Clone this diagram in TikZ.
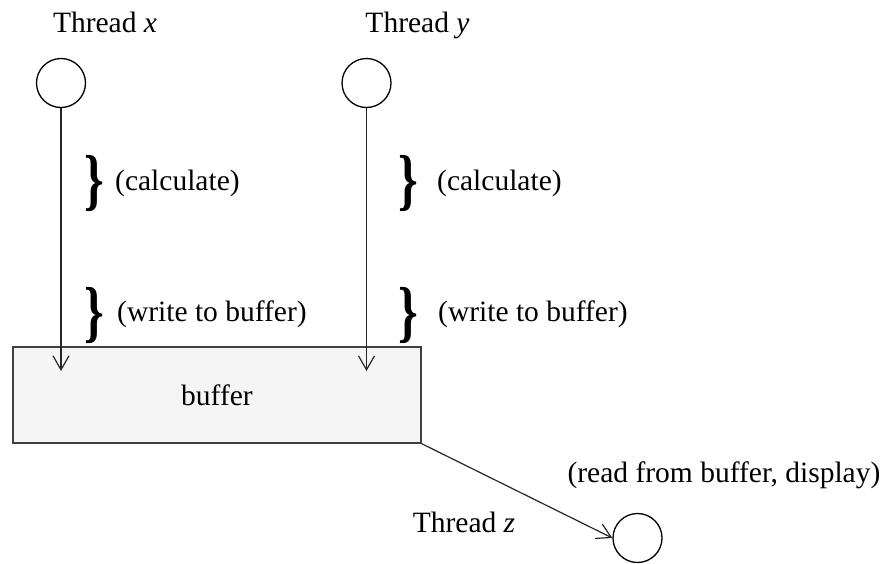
\documentclass[tikz,border=0pt]{standalone}
\usepackage{fontspec}
\setmainfont{Liberation Serif}
\usetikzlibrary{arrows.meta}

\tikzset{
  lbl/.style={inner sep=0pt, font=\fontsize{29.5}{35}\selectfont},
  thr/.style={circle, draw=black, line width=1.3pt, minimum size=49pt, inner sep=0pt},
  brc/.style={inner sep=0pt, font=\fontsize{29.5}{35}\selectfont\bfseries},
  flow/.style={draw=black!85, line width=1.2pt, -{Straight Barb[length=14pt,width=16pt,line width=1.2pt]}},
}
\newcommand{\tallbrace}{\scalebox{1.7}[2.3]{\}}}

\begin{document}
\begin{tikzpicture}[x=1pt,y=-1pt]
  \useasboundingbox (0,0) rectangle (890,563);

  % threads
  \node[thr] (cx) at (61,83) {};
  \node[thr] (cy) at (366.5,83) {};
  \node[thr] (cz) at (637.5,538) {};

  \node[lbl, anchor=base] (lx) at (105,32) {Thread \textit{x}};
  \node[lbl, anchor=base] (ly) at (417.5,32) {Thread \textit{y}};
  \node[lbl, anchor=base] (lz) at (464,532) {Thread \textit{z}};

  % shared buffer
  \node[draw=black!75, fill=black!4, line width=1.3pt, minimum width=408pt,
        minimum height=96pt, inner sep=0pt] (buf) at (217,395) {};
  \node[lbl, anchor=base] (bl) at (217,405) {buffer};

  % writer arrows ending inside the buffer
  \coordinate (tx) at (61,371);
  \coordinate (ty) at (366.5,371);
  \draw[flow] (cx.south) -- (tx);
  \draw[flow] (cy.south) -- (ty);

  % reader arrow
  \draw[flow] (buf.south east) -- (cz.west);

  % phase braces and notes
  \node[brc] (bx1) at (94,183) {\tallbrace};
  \node[brc] (bx2) at (94,315) {\tallbrace};
  \node[brc] (by1) at (408,183) {\tallbrace};
  \node[brc] (by2) at (408,315) {\tallbrace};

  \node[lbl, anchor=west] (nx1) at (115,183) {(calculate)};
  \node[lbl, anchor=west] (nx2) at (117,314) {(write to buffer)};
  \node[lbl, anchor=west] (ny1) at (437,183) {(calculate)};
  \node[lbl, anchor=west] (ny2) at (438,314) {(write to buffer)};

  \node[lbl, anchor=base] (nz) at (724,482) {(read from buffer, display)};
\end{tikzpicture}
\end{document}
